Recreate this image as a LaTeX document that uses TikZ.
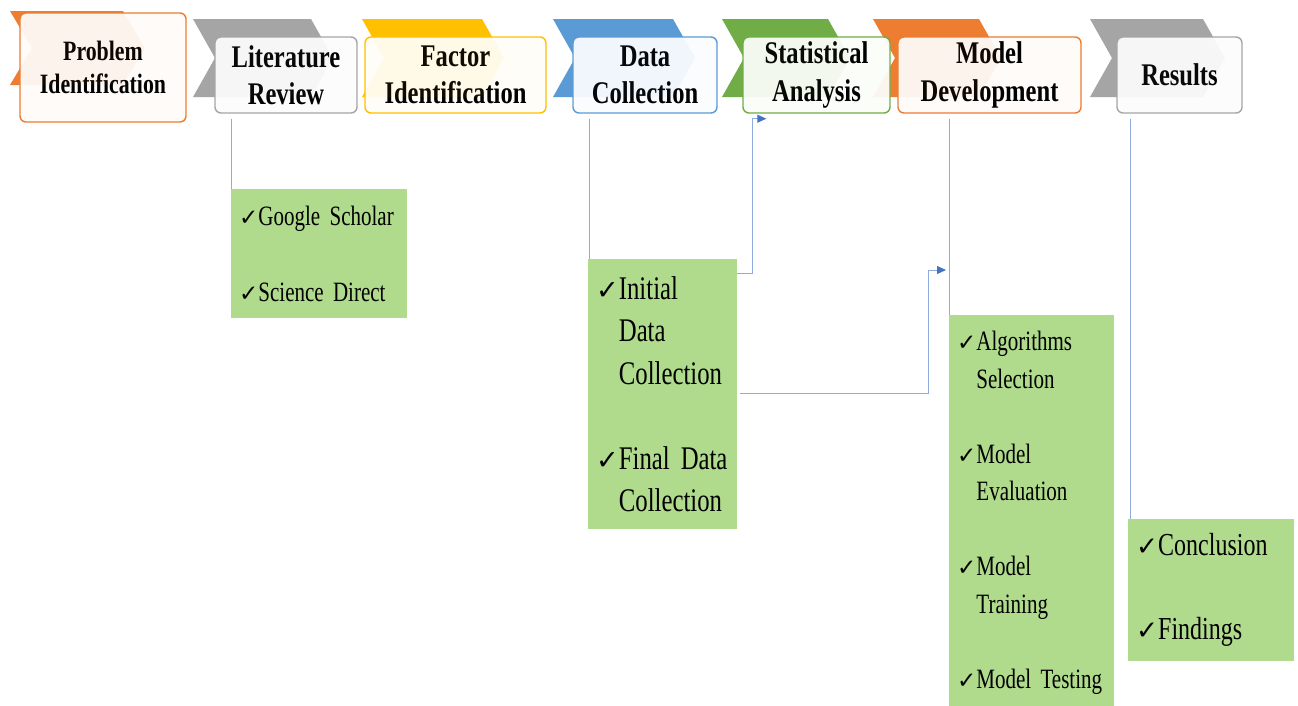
\documentclass[tikz,border=0pt]{standalone}
\usepackage{fontspec}
\setmainfont{Liberation Serif}[FakeStretch=0.75]
\newfontfamily\hdfont{Liberation Serif}[FakeStretch=0.78]
\newfontfamily\symfont{DejaVu Sans}[Scale=0.82]
\usepackage{tikz}
\usetikzlibrary{arrows.meta, calc}

\definecolor{cOrange}{HTML}{ED7D31}
\definecolor{cGray}{HTML}{A5A5A5}
\definecolor{cYellow}{HTML}{FFC000}
\definecolor{cBlue}{HTML}{5B9BD5}
\definecolor{cGreen}{HTML}{70AD47}
\definecolor{boxgreen}{HTML}{B0DA8C}
\definecolor{linkblue}{HTML}{8FAADC}
\definecolor{tipblue}{HTML}{4472C4}

\tikzstyle{stage} = [rectangle, rounded corners=6pt, line width=1.4pt, minimum height=76pt, align=center, inner sep=2pt, font=\hdfont\bfseries\fontsize{31.5}{37.5}\selectfont]
\tikzstyle{items} = [rectangle, fill=boxgreen, anchor=north west, align=left, inner xsep=8pt, inner ysep=0pt]
\tikzstyle{link} = [draw=linkblue, line width=1pt]
\tikzstyle{arrow} = [link, -{Triangle[length=9pt, width=8pt, color=tipblue]}]

\newcommand{\ck}{{\symfont\bfseries ✓}}
\newcommand{\ckgap}{\phantom{\ck}}
% chevron behind a stage box: x, y, width, half height, colour
\newcommand{\chev}[5]{\fill[#5] (#1,#2) -- ++(#3,0) -- ++(22,#4) -- ++(-22,#4) -- ++(-#3,0) -- ++(22,-#4) -- cycle;}

\begin{document}
\begin{tikzpicture}[x=1pt, y=-1pt]
\useasboundingbox (0,0) rectangle (1298,705);

% chevrons
\chev{10}{11}{113}{37}{cOrange}
\chev{193}{19}{118}{39}{cGray}
\chev{362}{19}{120}{39}{cYellow}
\chev{553}{19}{120}{39}{cBlue}
\chev{722}{19}{106}{39}{cGreen}
\chev{873}{19}{106}{39}{cOrange}
\chev{1090}{19}{113}{39}{cGray}

% stages
\node (prob) [stage, draw=cOrange, fill=cOrange!3, minimum width=166pt, minimum height=109pt, font=\hdfont\bfseries\fontsize{28}{33}\selectfont] at (103,67.5) {Problem\\Identification};
\node (lit) [stage, draw=cGray, fill=cGray!3, minimum width=142pt] at (286,75) {Literature\\Review};
\node (fac) [stage, draw=cYellow, fill=cYellow!3, minimum width=181pt] at (455.5,75) {Factor\\Identification};
\node (dat) [stage, draw=cBlue, fill=cBlue!3, minimum width=144pt] at (645,75) {Data\\Collection};
\node (sta) [stage, draw=cGreen, fill=cGreen!3, minimum width=147pt] at (816.5,75) {Statistical\\Analysis};
\node (mod) [stage, draw=cOrange, fill=cOrange!3, minimum width=183pt] at (989.5,75) {Model\\Development};
\node (res) [stage, draw=cGray, fill=cGray!3, minimum width=125pt] at (1179.5,75) {Results};

% faint chevrons seen through the boxes
\chev{10}{11}{113}{37}{cOrange, opacity=0.06}
\chev{193}{19}{118}{39}{cGray, opacity=0.06}
\chev{362}{19}{120}{39}{cYellow, opacity=0.06}
\chev{553}{19}{120}{39}{cBlue, opacity=0.06}
\chev{722}{19}{106}{39}{cGreen, opacity=0.06}
\chev{873}{19}{106}{39}{cOrange, opacity=0.06}
\chev{1090}{19}{113}{39}{cGray, opacity=0.06}

% detail boxes
\node (litg) [items, text width=160pt, minimum height=129pt, font=\fontsize{28}{38}\selectfont] at (231,189)
  {\ck Google Scholar\\[38pt]\ck Science Direct};
\node (datg) [items, text width=133pt, minimum height=270pt, font=\fontsize{33}{42.5}\selectfont] at (588,259)
  {\ck Initial\\\ckgap Data\\\ckgap Collection\\[42.5pt]\ck Final~Data\\\ckgap Collection};
\node (modg) [items, text width=149pt, minimum height=395pt, font=\fontsize{28}{37.5}\selectfont] at (949,315)
  {\ck Algorithms\\\ckgap Selection\\[37.5pt]\ck Model\\\ckgap Evaluation\\[37.5pt]\ck Model\\\ckgap Training\\[37.5pt]\ck Model Testing};
\node (resg) [items, text width=150pt, minimum height=142pt, font=\fontsize{32}{42}\selectfont] at (1128,519)
  {\ck Conclusion\\[42pt]\ck Findings};

\coordinate (staIn) at ($(sta.south west)+(24,5)$);
\coordinate (modIn) at ($(modg.north west)+(-3,-45)$);

% connectors
\draw [link] ($(litg.north west |- lit.south)+(0,5)$) -- (litg.north west);
\draw [link] ($(datg.north west |- dat.south)+(1,5)$) -- ($(datg.north west)+(1,0)$);
\draw [link] ($(modg.north west |- mod.south)+(0,5)$) -- (modg.north west);
\draw [link] ($(resg.north west |- res.south)+(2,5)$) -- ($(resg.north west)+(2,0)$);
\draw [arrow] ($(datg.north east)+(0,14)$) -- ++(15,0) |- (staIn);
\draw [arrow] ($(datg.north east)+(3,134)$) -- ++(188,0) |- (modIn);

\end{tikzpicture}
\end{document}
